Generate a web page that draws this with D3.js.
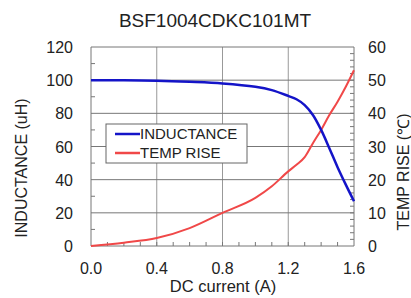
<html>
<script src='https://d3js.org/d3.v7.min.js'></script>
<style> body {margin:0; background:white;} text {font-family: 'Liberation Sans', Arial, sans-serif; fill:#222;} </style>
<body onload='init()'>
<svg width=411 height=298></svg>
<script>

var current = [0, 0.2, 0.4, 0.6, 0.8, 1.0, 1.1, 1.2, 1.25, 1.3, 1.35, 1.4, 1.45, 1.5, 1.55, 1.6];
var inductance = [100, 100, 99.7, 99, 98, 96, 94, 90.5, 88.5, 85, 79, 70, 59, 47.5, 37, 27];
var tempRise = [0, 1, 2.4, 5.4, 10, 14.5, 18, 22.5, 24.5, 26.8, 31, 35, 39.5, 43.5, 48, 53];
var xTicks = [0, 0.4, 0.8, 1.2, 1.6];
var leftTicks = [0, 20, 40, 60, 80, 100, 120];
var rightTicks = [0, 10, 20, 30, 40, 50, 60];

function init() {
	var svg = d3.select('svg');
	var left = 91, right = 354, top = 47, bottom = 246;

	var x = d3.scaleLinear().domain([0, 1.6]).range([left, right]);
	var yL = d3.scaleLinear().domain([0, 120]).range([bottom, top]);
	var yR = d3.scaleLinear().domain([0, 60]).range([bottom, top]);

	// grid
	svg.append('g').selectAll('line').data(xTicks.slice(1, -1)).enter().append('line')
		.attr('x1', d => x(d)).attr('x2', d => x(d)).attr('y1', top).attr('y2', bottom)
		.attr('stroke', '#999').attr('stroke-width', 1);
	svg.append('g').selectAll('line').data(leftTicks.slice(1)).enter().append('line')
		.attr('x1', left).attr('x2', right).attr('y1', d => yL(d)).attr('y2', d => yL(d))
		.attr('stroke', '#777').attr('stroke-width', 1);

	// axis lines
	svg.append('line').attr('x1', left).attr('x2', left).attr('y1', top).attr('y2', bottom).attr('stroke', '#777');
	svg.append('line').attr('x1', right).attr('x2', right).attr('y1', top).attr('y2', bottom).attr('stroke', '#777');
	svg.append('line').attr('x1', left).attr('x2', right).attr('y1', bottom).attr('y2', bottom).attr('stroke', '#777');

	// minor ticks
	svg.append('g').selectAll('line').data(d3.range(10, 120, 20)).enter().append('line')
		.attr('x1', left).attr('x2', left + 4).attr('y1', d => yL(d)).attr('y2', d => yL(d)).attr('stroke', '#777');
	svg.append('g').selectAll('line').data(d3.range(2, 60, 2)).enter().append('line')
		.attr('x1', right - 4).attr('x2', right).attr('y1', d => yR(d)).attr('y2', d => yR(d)).attr('stroke', '#777');
	svg.append('g').selectAll('line').data(d3.range(1, 16)).enter().append('line')
		.attr('x1', d => x(d / 10)).attr('x2', d => x(d / 10)).attr('y1', bottom - 4).attr('y2', bottom).attr('stroke', '#777');

	// tick labels
	svg.append('g').selectAll('text').data(leftTicks).enter().append('text')
		.attr('x', 73).attr('y', d => yL(d) + 6).attr('text-anchor', 'end')
		.style('font-size', '16px').text(d => d);
	svg.append('g').selectAll('text').data(rightTicks).enter().append('text')
		.attr('x', 368).attr('y', d => yR(d) + 6)
		.style('font-size', '16px').text(d => d);
	svg.append('g').selectAll('text').data(xTicks).enter().append('text')
		.attr('x', d => x(d)).attr('y', 274).attr('text-anchor', 'middle')
		.style('font-size', '16px').text(d => d3.format('.1f')(d));

	// titles
	svg.append('text').attr('x', 215).attr('y', 27).attr('text-anchor', 'middle')
		.style('font-size', '19px').text('BSF1004CDKC101MT');
	svg.append('text').attr('x', 223).attr('y', 292).attr('text-anchor', 'middle')
		.style('font-size', '16.5px').text('DC current (A)');
	svg.append('text').attr('transform', 'translate(27,168) rotate(-90)').attr('text-anchor', 'middle')
		.style('font-size', '16px').text('INDUCTANCE (uH)');
	svg.append('text').attr('transform', 'translate(409,172) rotate(-90)').attr('text-anchor', 'middle')
		.style('font-size', '16px').text('TEMP RISE (℃)');

	// curves
	var lineL = d3.line().x((d, i) => x(current[i])).y(d => yL(d)).curve(d3.curveCatmullRom);
	var lineR = d3.line().x((d, i) => x(current[i])).y(d => yR(d)).curve(d3.curveMonotoneX);
	svg.append('path').datum(tempRise).attr('d', lineR).attr('fill', 'none')
		.attr('stroke', '#f04848').attr('stroke-width', 2);
	svg.append('path').datum(inductance).attr('d', lineL).attr('fill', 'none')
		.attr('stroke', '#1414c8').attr('stroke-width', 2.5);

	// legend
	var lg = svg.append('g');
	lg.append('rect').attr('x', 106).attr('y', 124).attr('width', 141).attr('height', 39)
		.attr('fill', 'white').attr('stroke', '#666');
	var items = [['INDUCTANCE', '#1414c8'], ['TEMP RISE', '#f04848']];
	items.forEach(function (it, i) {
		var yy = 134 + i * 19;
		lg.append('line').attr('x1', 115).attr('x2', 140).attr('y1', yy).attr('y2', yy)
			.attr('stroke', it[1]).attr('stroke-width', 2.5);
		lg.append('text').attr('x', 140).attr('y', yy + 5).style('font-size', '15px').text(it[0]);
	});
}

</script>
</body>
</html>
